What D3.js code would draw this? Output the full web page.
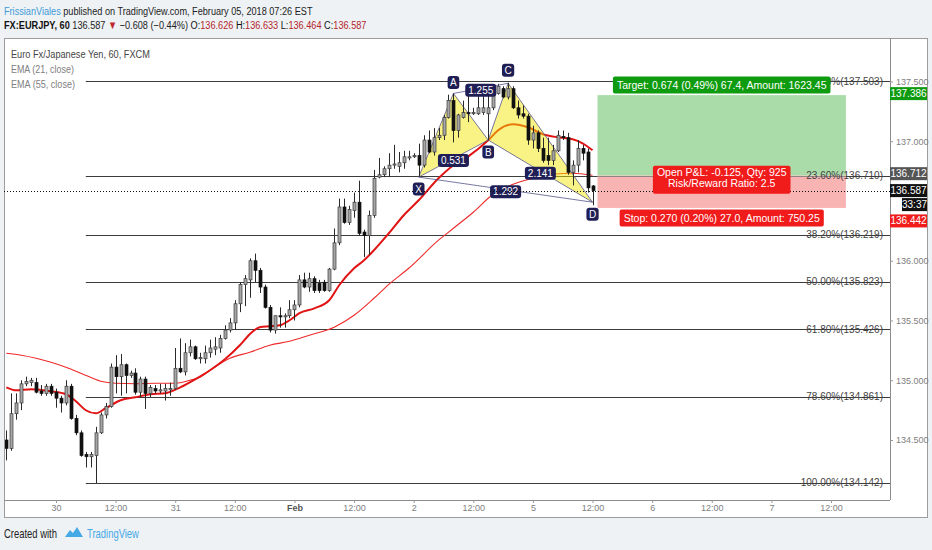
<!DOCTYPE html>
<html>
<head>
<meta charset="utf-8">
<script src="https://cdn.jsdelivr.net/npm/d3@7"></script>
<style>
  body { margin: 0; background: #eff2f5; }
  svg { display: block; font-family: "Liberation Sans", Arial, sans-serif; }
</style>
</head>
<body>
<div class="chart"></div>
<script>
// hourly bars, bar 0 = Jan 30 00:00, weekend hours skipped
const firstBar = -10;
const opens = [134.50,134.43,134.72,134.81,134.97,134.98,134.98,134.91,134.89,134.95,
  134.90,134.85,134.81,134.95,134.68,134.56,134.38,134.36,134.37,134.56,
  134.71,134.78,135.11,135.03,135.13,135.04,135.06,134.90,135.01,134.89,
  134.93,134.91,134.91,134.92,134.93,135.10,135.07,135.23,135.28,135.18,
  135.18,135.23,135.26,135.27,135.35,135.42,135.48,135.64,135.80,135.84,
  136.00,135.92,135.78,135.61,135.42,135.54,135.53,135.54,135.59,135.63,
  135.84,135.78,135.85,135.81,135.82,135.75,135.93,136.15,136.45,136.32,
  136.42,136.49,136.24,136.21,136.38,136.70,136.72,136.77,136.80,136.79,
  136.82,136.86,136.87,136.88,136.80,137.01,136.91,137.03,137.05,137.20,
  137.34,137.09,137.20,137.24,137.23,137.23,137.24,137.23,137.28,137.40,
  137.44,137.37,137.44,137.28,137.23,137.21,137.01,137.07,136.94,136.88,
  136.84,136.92,137.04,137.03,136.74,136.80,136.94,136.91,136.626];
const highs = [134.58,134.89,134.89,135.00,135.03,135.02,135.02,134.96,134.97,134.97,
  134.93,134.87,135.00,134.97,134.71,134.58,134.40,134.40,134.61,134.73,
  134.81,135.14,135.21,135.22,135.14,135.08,135.10,135.03,135.03,134.96,
  134.96,134.97,134.97,134.98,135.27,135.35,135.31,135.34,135.29,135.23,
  135.29,135.34,135.36,135.38,135.46,135.52,135.67,135.82,135.88,136.02,
  136.06,135.94,135.80,135.63,135.54,135.61,135.56,135.67,135.67,135.88,
  135.90,135.90,135.87,135.84,135.84,135.94,136.27,136.52,136.52,136.46,
  136.57,136.67,136.26,136.42,136.76,136.86,136.79,136.90,136.97,136.91,
  136.92,136.92,136.90,136.98,137.05,137.09,137.11,137.11,137.22,137.39,
  137.40,137.23,137.34,137.44,137.28,137.41,137.41,137.47,137.47,137.48,
  137.46,137.49,137.46,137.34,137.30,137.23,137.13,137.09,137.03,137.03,
  136.97,137.09,137.09,137.07,136.84,137.01,136.97,136.94,136.633];
const lows = [134.33,134.41,134.67,134.75,134.95,134.95,134.89,134.87,134.87,134.87,
  134.77,134.73,134.79,134.67,134.54,134.36,134.27,134.27,134.14,134.55,
  134.68,134.77,134.89,134.87,134.89,135.02,134.88,134.86,134.76,134.86,
  134.89,134.89,134.83,134.87,134.92,135.06,135.04,135.20,135.17,135.14,
  135.14,135.19,135.21,135.23,135.34,135.40,135.42,135.57,135.62,135.69,
  135.82,135.73,135.60,135.40,135.39,135.44,135.44,135.52,135.50,135.61,
  135.77,135.74,135.73,135.73,135.74,135.74,135.92,136.13,136.31,136.30,
  136.36,136.21,136.03,136.05,136.36,136.69,136.70,136.70,136.77,136.74,
  136.77,136.84,136.86,136.70,136.78,136.90,136.88,137.01,137.01,137.19,
  136.99,137.03,137.19,137.16,137.22,137.22,137.22,137.01,137.26,137.39,
  137.36,137.35,137.27,137.19,137.19,136.97,136.94,136.91,136.82,136.80,
  136.80,136.91,137.01,136.72,136.63,136.74,136.84,136.57,136.464];
const closes = [134.43,134.72,134.81,134.97,134.99,135.00,134.90,134.89,134.95,134.89,
  134.85,134.81,134.95,134.68,134.56,134.37,134.36,134.38,134.56,134.71,
  134.78,135.11,135.03,135.13,135.04,135.06,134.90,135.01,134.89,134.94,
  134.91,134.92,134.93,134.93,135.10,135.07,135.23,135.28,135.18,135.19,
  135.23,135.27,135.28,135.35,135.42,135.48,135.64,135.80,135.85,136.00,
  135.92,135.78,135.61,135.42,135.54,135.53,135.54,135.59,135.63,135.84,
  135.78,135.85,135.75,135.75,135.75,135.93,136.15,136.45,136.32,136.43,
  136.49,136.23,136.21,136.38,136.69,136.72,136.77,136.80,136.81,136.82,
  136.87,136.87,136.88,136.80,137.01,136.91,137.03,137.05,137.20,137.34,
  137.09,137.22,137.24,137.23,137.24,137.28,137.28,137.28,137.40,137.46,
  137.37,137.44,137.28,137.22,137.21,137.01,137.07,136.94,136.84,136.84,
  136.92,137.05,137.03,136.74,136.80,136.94,136.90,136.61,136.587];

// EMA values at some bars
const ema21Bars = [-10,-8,-5,-1,2,4,6,8,10,13,16,19,22,25,28,31,34,37,39,41,43,45,47,49,52,55,57,60,62,64,67,70,73,77,80,83,87,89,92,95,98,101,104,106,108];
const ema21Vals = [134.941,134.916,134.925,134.908,134.883,134.824,134.749,134.724,134.766,134.833,134.858,134.883,134.891,134.941,135.008,135.084,135.176,135.293,135.385,135.444,135.452,135.460,135.502,135.561,135.602,135.669,135.795,135.937,136.004,136.088,136.230,136.381,136.506,136.690,136.799,136.874,137.008,137.092,137.142,137.117,137.059,137.033,137.017,136.983,136.925];
const ema55Bars = [-10,-7,-4,-1,2,5,9,12,16,20,24,27,29,31,35,39,43,47,51,56,60,64,67,71,77,80,84,88,92,96,100,104,108];
const ema55Vals = [135.226,135.209,135.184,135.151,135.109,135.059,134.992,134.975,134.971,134.975,134.975,135.000,135.025,135.084,135.184,135.234,135.293,135.326,135.377,135.444,135.544,135.686,135.803,135.937,136.172,136.272,136.406,136.556,136.640,136.690,136.724,136.732,136.715];

// fib retracement
const fibStartBar = 6;
const fibPct = [0, 23.6, 38.2, 50, 61.8, 78.6, 100];
const fibPrices = [137.503, 136.710, 136.219, 135.823, 135.426, 134.861, 134.142];

// XABCD pattern
const patNames = ["X", "A", "B", "C", "D"];
const patBars = [73, 80, 87, 91, 108];
const patPrices = [136.70, 137.40, 137.01, 137.485, 136.49];
const patRatios = [["X","B","0.531"], ["A","C","1.255"], ["B","D","2.141"], ["X","D","1.292"]];

// long position tool
const posStartBar = 109, posEndBar = 159;
const entryPrice = 136.712, targetPrice = 137.386, stopPrice = 136.442;
const targetText = "Target: 0.674 (0.49%) 67.4, Amount: 1623.45";
const stopText = "Stop: 0.270 (0.20%) 27.0, Amount: 750.25";
const pnlText = ["Open P&L: -0.125, Qty: 925", "Risk/Reward Ratio: 2.5"];

// axes
const priceTicks = [134.5, 135, 135.5, 136, 137, 137.5];
const timeTickBars = [0,12,24,36,48,60,72,84,96,108,120,132,144,156];
const timeTickLabels = ["30","12:00","31","12:00","Feb","12:00","2","12:00","5","12:00","6","12:00","7","12:00"];
const countdown = "33:37";

const plot = {left: 4, top: 38, right: 890, bottom: 500};
const outer = {right: 927, bottom: 517};

const x = d3.scaleLinear().domain([0, 156]).range([56, 831]);
const y = d3.scaleLinear().domain([134.5, 137.5]).range([440, 81.5]);

const svg = d3.select('.chart').append('svg')
    .attr("width", 932)
    .attr("height", 550);

svg.append("rect").attr("width", 932).attr("height", 550).attr("fill", "#eff2f5");
svg.append("rect")
    .attr("x", plot.left + 0.5).attr("y", plot.top + 0.5)
    .attr("width", outer.right - plot.left).attr("height", outer.bottom - plot.top)
    .attr("fill", "white").attr("stroke", "#9c9c9c");

svg.append("clipPath").attr("id", "clip")
  .append("rect")
    .attr("x", plot.left + 1).attr("y", plot.top + 1)
    .attr("width", plot.right - plot.left - 1).attr("height", plot.bottom - plot.top - 1);

const g = svg.append("g").attr("clip-path", "url(#clip)");

// fib lines
g.append("g").selectAll("line")
    .data(fibPrices)
    .enter()
    .append("line")
    .attr("x1", x(fibStartBar)).attr("x2", plot.right)
    .attr("y1", d => Math.round(y(d)) + 0.5).attr("y2", d => Math.round(y(d)) + 0.5)
    .attr("stroke", "#3c3c3c").attr("stroke-width", 1);

// position zones
const px1 = x(posStartBar), px2 = x(posEndBar);
g.append("rect")
    .attr("x", px1).attr("width", px2 - px1)
    .attr("y", y(targetPrice)).attr("height", y(entryPrice) - y(targetPrice))
    .attr("fill", "#a9dca9");
g.append("rect")
    .attr("x", px1).attr("width", px2 - px1)
    .attr("y", y(entryPrice)).attr("height", y(stopPrice) - y(entryPrice))
    .attr("fill", "#f8b3b3");
g.append("line")
    .attr("x1", px1).attr("x2", px2)
    .attr("y1", Math.round(y(entryPrice)) + 0.5).attr("y2", Math.round(y(entryPrice)) + 0.5)
    .attr("stroke", "#777").attr("stroke-width", 0.8);

// fib labels, drawn over the zones
g.append("g").selectAll("text")
    .data(fibPrices)
    .enter()
    .append("text")
    .attr("x", 883)
    .attr("y", d => y(d) + 3.5)
    .attr("text-anchor", "end")
    .attr("font-size", 10)
    .attr("fill", "#444")
    .text((d, i) => fibPct[i].toFixed(2) + "%(" + d.toFixed(3) + ")");

// EMAs
const emaLine = d3.line()
    .x(d => x(d[0]))
    .y(d => y(d[1]))
    .curve(d3.curveMonotoneX);
g.append("path")
    .datum(d3.zip(ema55Bars, ema55Vals))
    .attr("fill", "none").attr("stroke", "#ee2a2a").attr("stroke-width", 1.1)
    .attr("d", emaLine);
g.append("path")
    .datum(d3.zip(ema21Bars, ema21Vals))
    .attr("fill", "none").attr("stroke", "#e01414").attr("stroke-width", 2)
    .attr("d", emaLine);

// pattern fill
const pt = {};
patNames.forEach((n, i) => pt[n] = [x(patBars[i]), y(patPrices[i])]);
g.selectAll(".tri")
    .data([["X","A","B"], ["B","C","D"]])
    .enter()
    .append("polygon")
    .attr("points", d => d.map(n => pt[n].join(",")).join(" "))
    .attr("fill", "#f3e600").attr("fill-opacity", 0.48)
    .attr("stroke", "#55558a").attr("stroke-width", 0.8);

// candles
const candles = opens.map((o, i) => ({bar: firstBar + i, o: o, h: highs[i], l: lows[i], c: closes[i]}));
const cg = g.append("g");
cg.selectAll("line")
    .data(candles)
    .enter()
    .append("line")
    .attr("x1", d => Math.round(x(d.bar)) + 0.5).attr("x2", d => Math.round(x(d.bar)) + 0.5)
    .attr("y1", d => y(d.h)).attr("y2", d => y(d.l))
    .attr("stroke", "#2a2a2a").attr("stroke-width", 1);
cg.selectAll("rect")
    .data(candles)
    .enter()
    .append("rect")
    .attr("x", d => Math.round(x(d.bar)) - 1)
    .attr("width", 3)
    .attr("y", d => y(Math.max(d.o, d.c)))
    .attr("height", d => Math.max(1, Math.abs(y(d.o) - y(d.c))))
    .attr("fill", d => d.c >= d.o ? "#a6a6a6" : "#111")
    .attr("stroke", d => d.c >= d.o ? "#3a3a3a" : "#111")
    .attr("stroke-width", 0.7);

// pattern connector lines and labels
const pg = svg.append("g");
pg.selectAll("line")
    .data(patRatios.filter(r => (r[0] == "A" && r[1] == "C") || (r[0] == "X" && r[1] == "D")))
    .enter()
    .append("line")
    .attr("x1", d => pt[d[0]][0]).attr("y1", d => pt[d[0]][1])
    .attr("x2", d => pt[d[1]][0]).attr("y2", d => pt[d[1]][1])
    .attr("stroke", "#55558a").attr("stroke-width", 0.8);

function badge(parent, cx, cy, str, bg, fg, size, padX, h, r) {
    const b = parent.append("g");
    const rect = b.append("rect");
    const t = b.append("text")
        .attr("x", cx).attr("y", cy + size * 0.36)
        .attr("text-anchor", "middle")
        .attr("font-size", size)
        .attr("fill", fg)
        .text(str);
    const w = t.node().getComputedTextLength() + padX * 2;
    rect.attr("x", cx - w / 2).attr("y", cy - h / 2)
        .attr("width", w).attr("height", h)
        .attr("rx", r).attr("fill", bg);
    return b;
}

const navy = "#1f1e55";
patRatios.forEach(r => {
    const a = pt[r[0]], b = pt[r[1]];
    badge(pg, (a[0] + b[0]) / 2, (a[1] + b[1]) / 2 + 2, r[2], navy, "white", 10, 3, 13, 3);
});
const labelOffset = {X: 12, A: -11, B: 12, C: -13, D: 12};
patNames.forEach(n => {
    badge(pg, pt[n][0], pt[n][1] + labelOffset[n], n, navy, "white", 10, 2.5, 13, 3);
});

// current price dotted line
const last = candles[candles.length - 1];
svg.append("line")
    .attr("x1", plot.left).attr("x2", plot.right)
    .attr("y1", Math.round(y(last.c)) + 0.5).attr("y2", Math.round(y(last.c)) + 0.5)
    .attr("stroke", "#111").attr("stroke-dasharray", "1,2");

// position labels
const pcx = (px1 + px2) / 2;
badge(svg, pcx, y(targetPrice) - 10, targetText, "#0f9b0f", "white", 10.5, 4, 17, 2);
badge(svg, pcx, y(stopPrice) + 10, stopText, "#f01b1b", "white", 10.5, 4, 17, 2);
const pnl = svg.append("g");
const pnlRect = pnl.append("rect");
const pnlTexts = pnl.selectAll("text")
    .data(pnlText)
    .enter()
    .append("text")
    .attr("x", pcx)
    .attr("y", (d, i) => y(entryPrice) + 0.5 + i * 11)
    .attr("text-anchor", "middle")
    .attr("font-size", 10.5)
    .attr("fill", "white")
    .text(d => d);
const pnlW = d3.max(pnlTexts.nodes(), n => n.getComputedTextLength()) + 8;
pnlRect.attr("x", pcx - pnlW / 2).attr("y", y(entryPrice) - 10)
    .attr("width", pnlW).attr("height", 28).attr("rx", 2).attr("fill", "#f01b1b");

// axis frame lines
svg.append("line")
    .attr("x1", plot.right + 0.5).attr("x2", plot.right + 0.5)
    .attr("y1", plot.top).attr("y2", plot.bottom)
    .attr("stroke", "#8c8c8c");
svg.append("line")
    .attr("x1", plot.left).attr("x2", plot.right)
    .attr("y1", plot.bottom + 0.5).attr("y2", plot.bottom + 0.5)
    .attr("stroke", "#8c8c8c");

const yAxis = d3.axisRight(y)
    .tickValues(priceTicks)
    .tickFormat(d3.format(".3f"))
    .tickSize(3)
    .tickPadding(3);
const ya = svg.append("g")
    .attr("transform", `translate(${plot.right},0)`)
    .call(yAxis);
ya.select(".domain").remove();
ya.selectAll("text").attr("font-size", 9).attr("fill", "#808080").attr("font-family", null);
ya.selectAll("line").attr("stroke", "#999");

const xAxis = d3.axisBottom(x)
    .tickValues(timeTickBars)
    .tickFormat((d, i) => timeTickLabels[i])
    .tickSize(3)
    .tickPadding(2);
const xa = svg.append("g")
    .attr("transform", `translate(0,${plot.bottom})`)
    .call(xAxis);
xa.select(".domain").remove();
xa.selectAll("text").attr("font-size", 9).attr("font-family", null)
    .attr("font-weight", d => d == 48 ? "bold" : null)
    .attr("fill", d => d == 48 ? "#555" : "#808080");
xa.selectAll("line").attr("stroke", "#999");

// price tags on the axis
function axisTag(cy, str, bg, xLeft) {
    const tg = svg.append("g");
    tg.append("rect")
        .attr("x", xLeft).attr("y", cy - 6.5)
        .attr("width", outer.right - xLeft).attr("height", 13)
        .attr("fill", bg);
    tg.append("text")
        .attr("x", xLeft + (outer.right - xLeft) / 2).attr("y", cy + 3.5)
        .attr("text-anchor", "middle")
        .attr("font-size", 10).attr("fill", "white")
        .text(str);
}
const fmt = d3.format(".3f");
axisTag(y(targetPrice) - 1.5, fmt(targetPrice), "#0f9b0f", plot.right);
axisTag(y(entryPrice) - 2, fmt(entryPrice), "#555", plot.right);
axisTag(y(last.c), fmt(last.c), "#111", plot.right);
axisTag(y(last.c) + 14, countdown, "#111", 902);
axisTag(y(stopPrice) + 13, fmt(stopPrice), "#f01b1b", plot.right);

// narrow-looking text: squeeze horizontally to the width seen in the picture
function squeeze(sel, left, base, width) {
    const w = sel.node().getComputedTextLength();
    sel.attr("x", 0).attr("y", 0)
        .attr("transform", `translate(${left},${base}) scale(${width / w},1)`);
}

// header
const h1 = svg.append("text").attr("font-size", 11.5);
h1.append("tspan").attr("fill", "#3d9ad6").text("FrissianViales");
h1.append("tspan").attr("fill", "#222").text(" published on TradingView.com, February 05, 2018 07:26 EST");
squeeze(h1, 4, 15, 309);

const h2 = svg.append("text").attr("font-size", 11.5);
h2.append("tspan").attr("fill", "#111").attr("font-weight", "bold").text("FX:EURJPY, 60");
h2.append("tspan").attr("fill", "#222").text(" " + fmt(last.c) + " ");
h2.append("tspan").attr("fill", "#c0262d").text("▼");
h2.append("tspan").attr("fill", "#222").text(" \u22120.608 (\u22120.44%) ");
[["O", last.o], ["H", last.h], ["L", last.l], ["C", last.c]].forEach((p, i) => {
    h2.append("tspan").attr("fill", "#111").text((i ? " " : "") + p[0] + ":");
    h2.append("tspan").attr("fill", "#b3262c").text(fmt(p[1]));
});
squeeze(h2, 4, 29, 363);

// legend
const legLines = ["Euro Fx/Japanese Yen, 60, FXCM", "EMA (21, close)", "EMA (55, close)"];
const legWidths = [139, 63, 64];
legLines.forEach((s, i) => {
    const t = svg.append("text").attr("font-size", 11).attr("fill", i ? "#808080" : "#444").text(s);
    squeeze(t, 11, 58 + i * 15, legWidths[i]);
});

// footer
const cw = svg.append("text").attr("font-size", 12).attr("fill", "#222").text("Created with");
squeeze(cw, 4, 538, 53);
svg.append("path")
    .attr("d", "M65,537 L70,530 L73,533 L77,527 L83,537 Z")
    .attr("fill", "#45a9e6");
const tv = svg.append("text").attr("font-size", 12).attr("fill", "#45a9e6").text("TradingView");
squeeze(tv, 87, 538, 52);
</script>
</body>
</html>
